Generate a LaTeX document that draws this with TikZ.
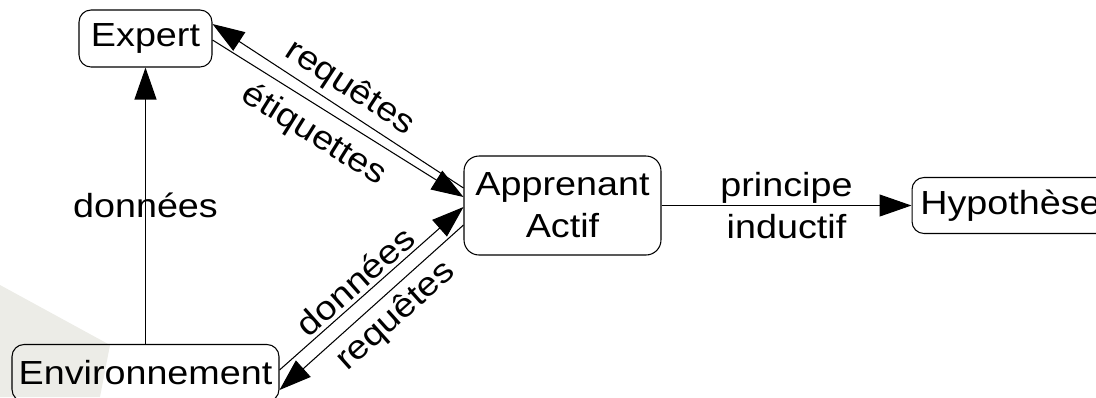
\documentclass[tikz,border=0pt]{standalone}
\usepackage{fontspec}
\setmainfont{Liberation Sans}[FakeStretch=1.13]
\usetikzlibrary{arrows.meta,positioning}

\definecolor{fond}{RGB}{236,236,231}

\tikzset{
	boite/.style={draw, rounded corners=0.24cm, inner sep=0pt, align=center,
		font=\fontsize{19}{24}\selectfont},
	etiq/.style={font=\fontsize{19}{24}\selectfont, inner sep=2pt},
	>={Triangle[length=0.64cm,width=0.44cm]}
}

\begin{document}
\begin{tikzpicture}[x=0.02cm, y=-0.02cm, line width=0.6pt]

		\useasboundingbox (0,0) rectangle (1096,397);
		
		% ombre grise en bas a gauche
		\fill[fond] (0,285) -- (110,345) -- (100,397) -- (0,397) -- cycle;
		
		\node[boite, minimum width=2.66cm, minimum height=1.14cm] (expert) at (145.5,38.5) {Expert};
		\node[boite, minimum width=5.34cm, minimum height=1.14cm] (env) at (145.5,373) {Environnement};
		\node[boite, rounded corners=0.3cm, minimum width=3.94cm, minimum height=1.98cm] (apprenant) at (562.5,205.5) {Apprenant\\Actif};
		\node[boite, minimum width=3.94cm, minimum height=1.12cm] (hypo) at (1010.5,205.5) {Hypothèse};
		
		\draw [->](env) -- (expert) node[midway, etiq]{données};
		
		\draw [<-]([yshift=0.29cm]expert.east) -- ([yshift=0.35cm]apprenant.west) node[midway, above=1pt, sloped, etiq]{requêtes};
		\draw [->]([yshift=-0.03cm]expert.east) -- ([yshift=0.17cm]apprenant.west) node[pos=0.46, below=4pt, sloped, etiq]{étiquettes};
		
		\draw [->]([yshift=0.06cm]env.east) -- ([yshift=-0.03cm]apprenant.west) node[pos=0.47, above, sloped, etiq]{données};
		\draw [<-]([yshift=-0.34cm]env.east) -- ([yshift=-0.39cm]apprenant.west) node[pos=0.55, below=2pt, sloped, etiq]{requêtes};
		
		\draw [->](apprenant) -- (hypo) node[midway, etiq, align=center]{principe\\inductif};
	\end{tikzpicture}
\end{document}
